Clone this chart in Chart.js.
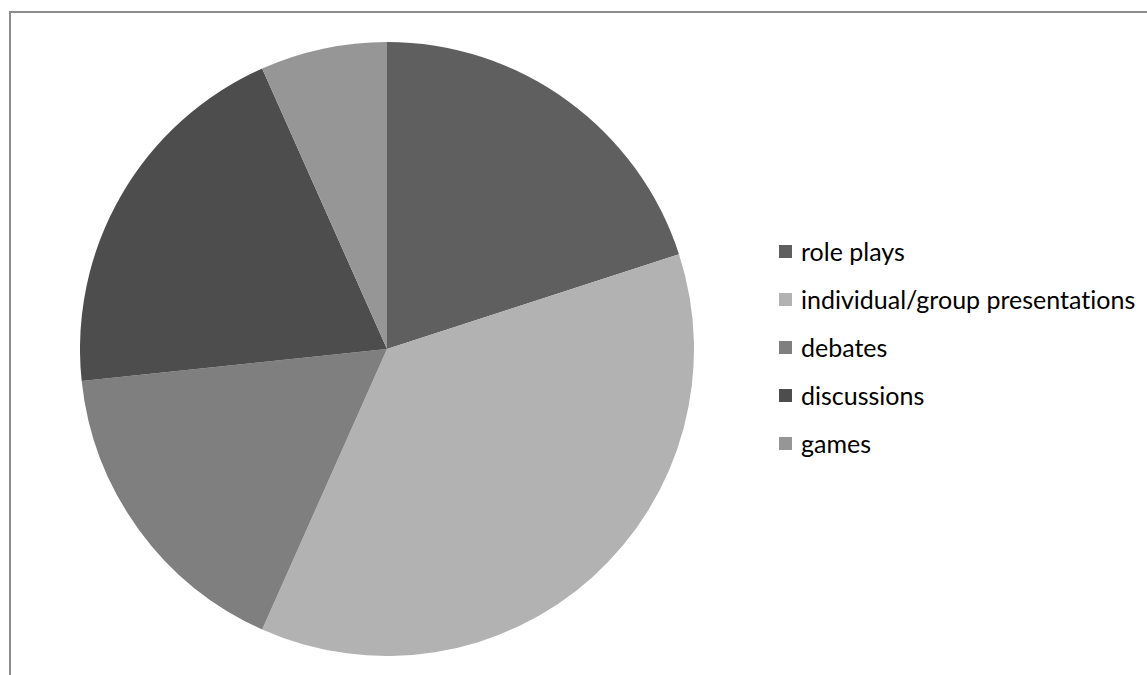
<!DOCTYPE html>
<html lang="en">
<head>
    <meta charset="UTF-8">
    <title>Speaking activities</title>
    <script src="https://cdn.jsdelivr.net/npm/chart.js"></script>
    <style>
        body {
            margin: 0;
            background: #fff;
            width: 1147px;
            height: 675px;
            overflow: hidden;
            position: relative;
            font-family: Lato, "Open Sans", sans-serif;
        }
        .frame {
            position: absolute;
            left: 9px;
            top: 11px;
            width: 1200px;
            height: 700px;
            border-top: 2px solid #8c8c8c;
            border-left: 2px solid #8c8c8c;
        }
        #pieWrap {
            position: absolute;
            left: 80px;
            top: 42px;
            width: 614px;
            height: 614px;
        }
        .legend {
            position: absolute;
            left: 779px;
            top: 227px;
            margin: 0;
            padding: 0;
            list-style: none;
        }
        .legend li {
            height: 48px;
            display: flex;
            align-items: center;
            font-size: 25px;
            color: #000;
            line-height: 32px;
            font-variant-ligatures: none;
        }
        .legend span.box {
            display: inline-block;
            width: 13px;
            height: 13px;
            margin-right: 9px;
        }
    </style>
</head>
<body>
    <div class="frame"></div>
    <div id="pieWrap"><canvas id="pie" width="614" height="614"></canvas></div>
    <ul class="legend" id="legend"></ul>

    <script>
        const activities = ['role plays', 'individual/group presentations', 'debates', 'discussions', 'games'];
        const counts = [6, 11, 5, 6, 2];
        const shades = ['#5f5f5f', '#b2b2b2', '#7f7f7f', '#4d4d4d', '#969696'];

        const chart = new Chart(document.getElementById('pie').getContext('2d'), {
            type: 'pie',
            data: {
                labels: activities,
                datasets: [{
                    data: counts,
                    backgroundColor: shades,
                    borderWidth: 0
                }]
            },
            options: {
                responsive: false,
                animation: false,
                layout: { padding: 0 },
                plugins: {
                    legend: { display: false },
                    tooltip: { enabled: false }
                }
            }
        });

        // legend list built from the chart's own labels and colours
        const legendEl = document.getElementById('legend');
        chart.data.labels.forEach((label, i) => {
            const li = document.createElement('li');
            const box = document.createElement('span');
            box.className = 'box';
            box.style.background = chart.data.datasets[0].backgroundColor[i];
            li.appendChild(box);
            li.appendChild(document.createTextNode(label));
            legendEl.appendChild(li);
        });
    </script>
</body>
</html>
